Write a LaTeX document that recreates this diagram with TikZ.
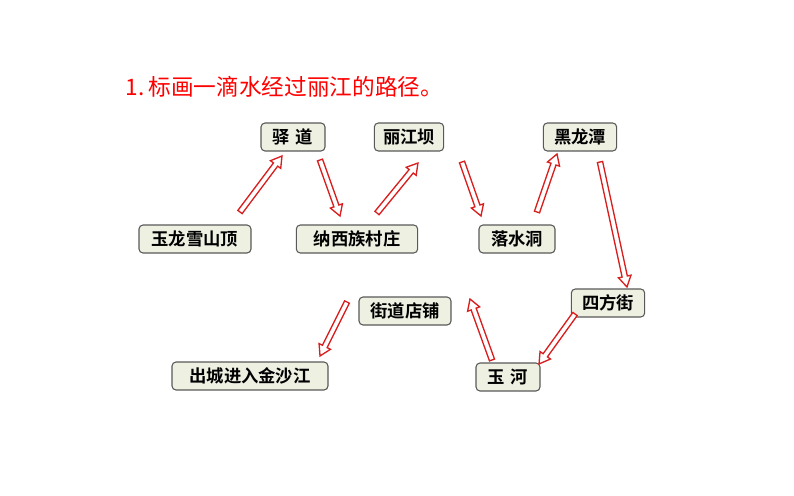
\documentclass[tikz,border=0pt]{standalone}
\usepackage{fontspec}
\setmainfont{Noto Sans CJK SC}[BoldFont={* Bold}]
\usetikzlibrary{calc}
\definecolor{boxfill}{HTML}{EEF0E2}
\definecolor{arrred}{HTML}{D91E1E}
\begin{document}
\begin{tikzpicture}[x=0.75pt,y=-0.75pt,
  box/.style={draw=gray!70!black,fill=boxfill,rounded corners=3pt,line width=0.8pt,font=\fontsize{13}{15}\selectfont\bfseries,inner sep=0pt,minimum height=21pt},
  flow/.style={draw=arrred,fill=white,line width=1pt,line join=miter}]
\useasboundingbox (0,0) rectangle (794,496);
\node[anchor=west,text=red,font=\fontsize{17}{20}\selectfont] (title) at (121,87) {1.\,标画一滴水经过丽江的路径。};
\node[box,minimum width=48pt] (yd) at (293,137) {驿\,\,道};
\node[box,minimum width=52pt] (ljb) at (409,137) {丽江坝};
\node[box,minimum width=55pt] (hlt) at (580,137) {黑龙潭};
\node[box,minimum width=84pt] (ylx) at (195,239) {玉龙雪山顶};
\node[box,minimum width=91pt] (nx) at (357,239) {纳西族村庄};
\node[box,minimum width=57pt] (lsd) at (517,239) {落水洞};
\node[box,minimum width=55pt] (sfj) at (608,303) {四方街};
\node[box,minimum width=69pt] (jd) at (405,311) {街道店铺};
\node[box,minimum width=48pt] (yh) at (508,377) {玉\,\,河};
\node[box,minimum width=117pt] (cc) at (250,376) {出城进入金沙江};
\coordinate (a1) at (240,212); \coordinate (b1) at (282,156);
\coordinate (a2) at (320,160); \coordinate (b2) at (340,216);
\coordinate (a3) at (377,213); \coordinate (b3) at (418,163);
\coordinate (a4) at (462,162); \coordinate (b4) at (481,216);
\coordinate (a5) at (537,212); \coordinate (b5) at (557,154);
\coordinate (a6) at (600,162); \coordinate (b6) at (627,287);
\coordinate (a7) at (575,314); \coordinate (b7) at (539,364);
\coordinate (a8) at (492,360); \coordinate (b8) at (470,299);
\coordinate (a9) at (347,302); \coordinate (b9) at (320,356);
\foreach \i in {1,...,9}
  \path let \p1=($(b\i)-(a\i)$), \n1={atan2(\y1,\x1)}, \n2={veclen(\x1,\y1)} in
    [flow, shift={(a\i)}, rotate=\n1, x=1pt, y=1pt]
    (0,-2) -- ({\n2/1pt-8},-2) -- ({\n2/1pt-8},-4.8) -- ({\n2/1pt},0) -- ({\n2/1pt-8},4.8) -- ({\n2/1pt-8},2) -- (0,2) -- cycle;
\end{tikzpicture}
\end{document}
